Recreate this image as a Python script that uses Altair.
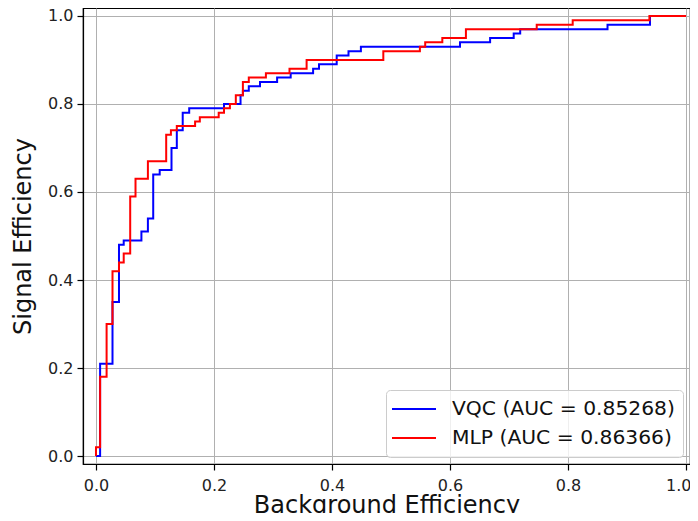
import altair as alt
import pandas as pd

# VQC ROC curve (background efficiency, signal efficiency) step corners
vqc_fpr = [0.0, 0.007, 0.028, 0.039, 0.047, 0.077, 0.088, 0.097, 0.108, 0.128,
           0.137, 0.147, 0.158, 0.217, 0.245, 0.249, 0.259, 0.278, 0.307, 0.33,
           0.368, 0.378, 0.408, 0.428, 0.449, 0.617, 0.668, 0.708, 0.719, 0.867,
           0.939, 1.0]
vqc_tpr = [0.0, 0.21, 0.35, 0.48, 0.49, 0.51, 0.54, 0.64, 0.65, 0.70,
           0.74, 0.78, 0.79, 0.80, 0.82, 0.83, 0.84, 0.85, 0.86, 0.87,
           0.88, 0.89, 0.91, 0.92, 0.93, 0.94, 0.95, 0.96, 0.97, 0.98,
           1.0, 1.0]

# MLP ROC curve
mlp_fpr = [0.0, 0.0, 0.007, 0.018, 0.028, 0.039, 0.047, 0.058, 0.067, 0.088,
           0.119, 0.127, 0.137, 0.168, 0.176, 0.208, 0.217, 0.227, 0.237, 0.249,
           0.259, 0.288, 0.328, 0.357, 0.487, 0.549, 0.558, 0.587, 0.627, 0.747,
           0.808, 0.938, 1.0]
mlp_tpr = [0.0, 0.02, 0.18, 0.30, 0.42, 0.44, 0.46, 0.59, 0.63, 0.67,
           0.73, 0.74, 0.75, 0.76, 0.77, 0.78, 0.79, 0.80, 0.82, 0.85,
           0.86, 0.87, 0.88, 0.90, 0.92, 0.93, 0.94, 0.95, 0.97, 0.98,
           0.99, 1.0, 1.0]

series_names = ["VQC (AUC = 0.85268)", "MLP (AUC = 0.86366)"]
series_colors = ["#0000ff", "#ff0000"]
tick_values = [0.0, 0.2, 0.4, 0.6, 0.8, 1.0]

rows = []
for i, (x, y) in enumerate(zip(vqc_fpr, vqc_tpr)):
    rows.append({"model": series_names[0], "fpr": x, "tpr": y, "idx": i})
for i, (x, y) in enumerate(zip(mlp_fpr, mlp_tpr)):
    rows.append({"model": series_names[1], "fpr": x, "tpr": y, "idx": i})
df = pd.DataFrame(rows)

FONT = "DejaVu Sans"

chart = alt.Chart(df).mark_line(interpolate="step-after", strokeWidth=2).encode(
    x=alt.X("fpr:Q",
            scale=alt.Scale(domain=[-0.022, 1.0068], nice=False, zero=False),
            axis=alt.Axis(title="Background Efficiency", values=tick_values, format=".1f",
                          labelFlush=8, labelFlushOffset=5,
                          titleBaseline="alphabetic", titleY=48)),
    y=alt.Y("tpr:Q",
            scale=alt.Scale(domain=[-0.018, 1.018], nice=False, zero=False),
            axis=alt.Axis(title="Signal Efficiency", values=tick_values, format=".1f")),
    color=alt.Color("model:N",
                    scale=alt.Scale(domain=series_names, range=series_colors),
                    legend=alt.Legend(title=None, orient="none", legendX=303, legendY=382,
                                      symbolType="M-1.3,0H3.1", symbolSize=400,
                                      symbolStrokeWidth=2, labelFontSize=20.3,
                                      labelFont=FONT, labelColor="#111111",
                                      labelOffset=36, rowPadding=7, padding=8,
                                      strokeColor="#cccccc", fillColor="rgba(255,255,255,0.8)",
                                      cornerRadius=4, labelLimit=400)),
    order=alt.Order("idx:Q"),
).properties(
    width=607, height=456,
    autosize=alt.AutoSizeParams(type="none"),
    padding={"left": 75, "top": 0, "right": 0, "bottom": 49},
).configure_view(
    stroke="black", strokeWidth=1.2
).configure_axis(
    labelFont=FONT, titleFont=FONT, labelFontSize=16, titleFontSize=24,
    labelColor="#222222", titleColor="#111111", titleFontWeight="normal",
    domainColor="black", domainWidth=1.2, tickColor="black", tickSize=6,
    tickWidth=1.2, gridColor="#b0b0b0", gridWidth=1,
).configure_axisX(
    labelPadding=7
).configure_axisY(
    labelPadding=4, titlePadding=12
)

chart.save("out.html", embed_options={"renderer": "svg", "actions": False})
